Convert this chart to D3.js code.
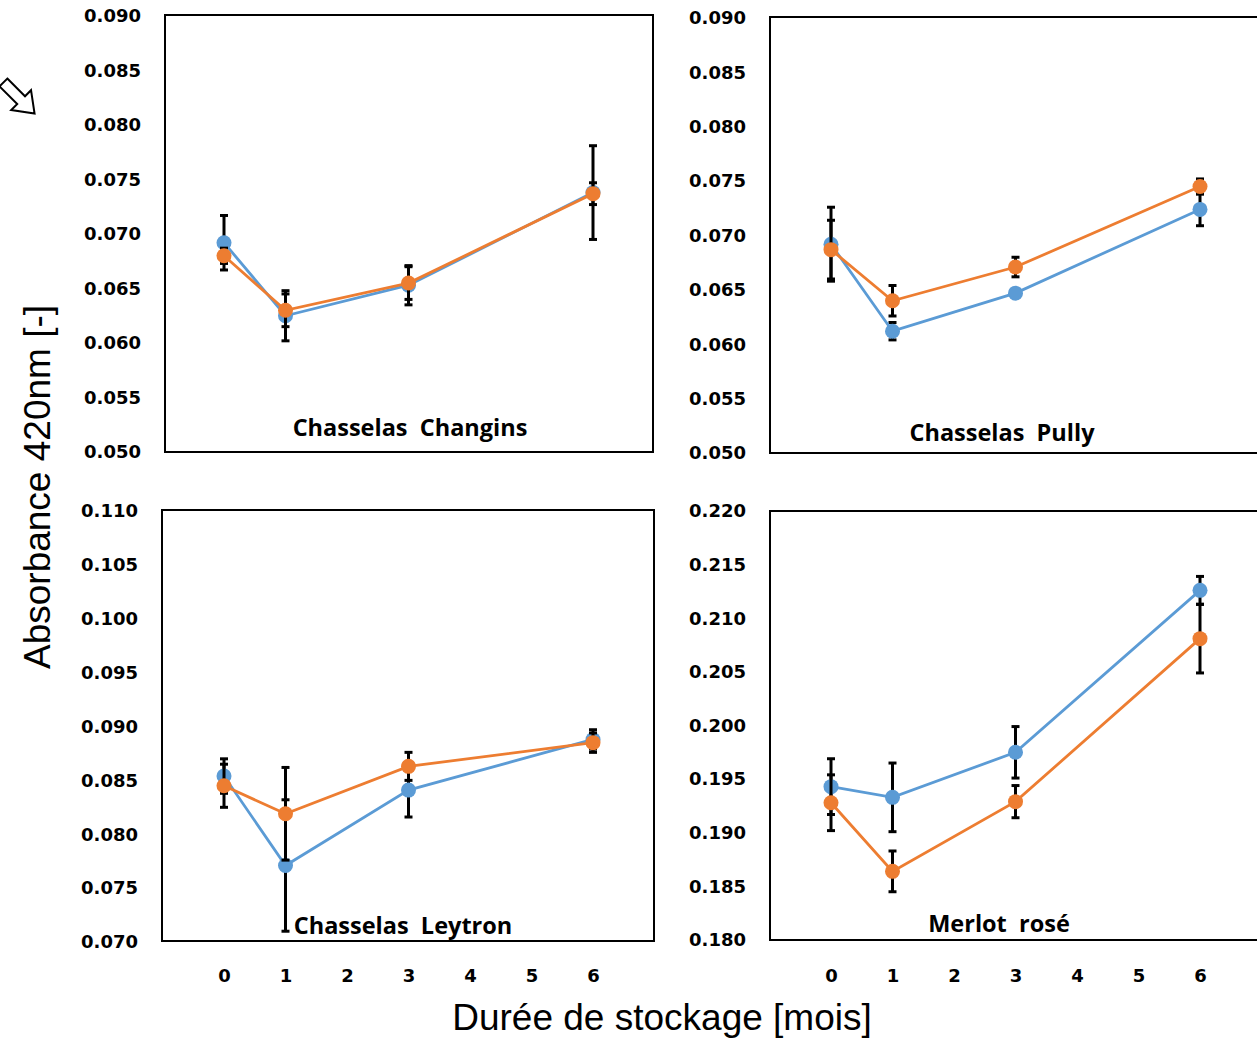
<!DOCTYPE html>
<html>
<head>
<meta charset="utf-8">
<script src="https://cdn.jsdelivr.net/npm/d3@7"></script>
<style>
  body { margin: 0; background: #fff; }
  .tick text { font-family: "DejaVu Sans", sans-serif; font-weight: bold; font-size: 18px; fill: #000; }
  .title { font-family: "Liberation Sans", Arial, sans-serif; font-size: 37px; fill: #000; }
  .plabel { font-family: "Open Sans", sans-serif; font-weight: 700; font-size: 23.5px; fill: #000; }
</style>
</head>
<body>
<div id="chart"></div>
<script>
const months = [0, 1, 3, 6];
const xTicks = [0, 1, 2, 3, 4, 5, 6];

const changinsBlue = [0.0692, 0.0625, 0.0653, 0.0738];
const changinsBlueErr = [0.0025, 0.0023, 0.0018, 0.0043];
const changinsOrange = [0.0680, 0.0630, 0.0655, 0.0737];
const changinsOrangeErr = [0.0007, 0.0015, 0.0015, 0.0010];

const pullyBlue = [0.0692, 0.0612, 0.0647, 0.0724];
const pullyBlueErr = [0.0034, 0.0008, 0.0002, 0.0015];
const pullyOrange = [0.0687, 0.0640, 0.0671, 0.0745];
const pullyOrangeErr = [0.0027, 0.0014, 0.0009, 0.0007];

const leytronBlue = [0.0854, 0.0771, 0.0841, 0.0888];
const leytronBlueErr = [0.0016, 0.0061, 0.0025, 0.0009];
const leytronOrange = [0.0845, 0.0819, 0.0863, 0.0885];
const leytronOrangeErr = [0.0020, 0.0043, 0.0013, 0.0009];

const merlotBlue = [0.1943, 0.1933, 0.1975, 0.2126];
const merlotBlueErr = [0.0026, 0.0032, 0.0024, 0.0013];
const merlotOrange = [0.1928, 0.1864, 0.1929, 0.2081];
const merlotOrangeErr = [0.0026, 0.0019, 0.0015, 0.0032];

const ticksTop = [0.050, 0.055, 0.060, 0.065, 0.070, 0.075, 0.080, 0.085, 0.090];
const ticksLeytron = [0.070, 0.075, 0.080, 0.085, 0.090, 0.095, 0.100, 0.105, 0.110];
const ticksMerlot = [0.180, 0.185, 0.190, 0.195, 0.200, 0.205, 0.210, 0.215, 0.220];

const blue = "#5B9BD5";
const orange = "#ED7D31";

const svg = d3.select("#chart").append("svg")
  .attr("width", 1257)
  .attr("height", 1038);

// panel layout (box edges in px)
const panels = [
  { name: "Chasselas  Changins", box: [165, 15, 653, 452], yr: [452, 16], xr: [162.5, 654.5],
    ticks: ticksTop, blue: changinsBlue, blueErr: changinsBlueErr, orange: changinsOrange, orangeErr: changinsOrangeErr,
    labelX: 410, labelY: 436, showX: false },
  { name: "Chasselas  Pully", box: [770, 17, 1262, 453], yr: [453, 18], xr: [769.5, 1261.5],
    ticks: ticksTop, blue: pullyBlue, blueErr: pullyBlueErr, orange: pullyOrange, orangeErr: pullyOrangeErr,
    labelX: 1002, labelY: 441, showX: false },
  { name: "Chasselas  Leytron", box: [162, 510, 654, 941], yr: [942, 511], xr: [162.5, 654.5],
    ticks: ticksLeytron, blue: leytronBlue, blueErr: leytronBlueErr, orange: leytronOrange, orangeErr: leytronOrangeErr,
    labelX: 403, labelY: 934, showX: true },
  { name: "Merlot  rosé", box: [770, 511, 1262, 940], yr: [940, 511], xr: [769.5, 1261.5],
    ticks: ticksMerlot, blue: merlotBlue, blueErr: merlotBlueErr, orange: merlotOrange, orangeErr: merlotOrangeErr,
    labelX: 999, labelY: 932, showX: true }
];

panels.forEach((p) => {
  const x = d3.scaleLinear().domain([-1, 7]).range(p.xr);
  const y = d3.scaleLinear().domain([p.ticks[0], p.ticks[p.ticks.length - 1]]).range(p.yr);
  const g = svg.append("g");

  g.append("rect")
    .attr("x", p.box[0])
    .attr("y", p.box[1])
    .attr("width", p.box[2] - p.box[0])
    .attr("height", p.box[3] - p.box[1])
    .attr("fill", "none")
    .attr("stroke", "#000")
    .attr("stroke-width", 2);

  const yAxis = g.append("g")
    .attr("transform", `translate(${p.box[0] - 22},0)`)
    .call(d3.axisLeft(y).tickValues(p.ticks).tickSize(0).tickPadding(2).tickFormat(d3.format(".3f")));
  yAxis.select(".domain").remove();

  if (p.showX) {
    const xAxis = g.append("g")
      .attr("transform", "translate(0,966)")
      .call(d3.axisBottom(x).tickValues(xTicks).tickSize(0).tickFormat(d3.format("d")));
    xAxis.select(".domain").remove();
  }

  const series = [
    { vals: p.blue, err: p.blueErr, color: blue },
    { vals: p.orange, err: p.orangeErr, color: orange }
  ];

  const line = d3.line()
    .x((d, i) => x(months[i]))
    .y((d) => y(d));

  series.forEach((s) => {
    const eb = g.append("g");
    s.vals.forEach((v, i) => {
      const cx = x(months[i]);
      const y1 = y(v + s.err[i]);
      const y2 = y(v - s.err[i]);
      eb.append("line").attr("x1", cx).attr("x2", cx).attr("y1", y1).attr("y2", y2)
        .attr("stroke", "#000").attr("stroke-width", 3);
      [y1, y2].forEach((yy) => {
        eb.append("line").attr("x1", cx - 4).attr("x2", cx + 4).attr("y1", yy).attr("y2", yy)
          .attr("stroke", "#000").attr("stroke-width", 3);
      });
    });

    g.append("path")
      .datum(s.vals)
      .attr("fill", "none")
      .attr("stroke", s.color)
      .attr("stroke-width", 2.8)
      .attr("d", line);

    g.selectAll(null)
      .data(s.vals)
      .enter()
      .append("circle")
      .attr("cx", (d, i) => x(months[i]))
      .attr("cy", (d) => y(d))
      .attr("r", 7.5)
      .attr("fill", s.color);
  });

  g.append("text")
    .attr("class", "plabel")
    .attr("x", p.labelX)
    .attr("y", p.labelY)
    .attr("text-anchor", "middle")
    .style("white-space", "pre")
    .text(p.name);
});

// axis titles
svg.append("text")
  .attr("class", "title")
  .attr("transform", "translate(50,487) rotate(-90)")
  .attr("text-anchor", "middle")
  .text("Absorbance 420nm [-]");

svg.append("text")
  .attr("class", "title")
  .attr("x", 662)
  .attr("y", 1030)
  .attr("text-anchor", "middle")
  .text("Durée de stockage [mois]");

// small hollow arrow in the corner
svg.append("path")
  .attr("d", "M-22,-5.5 L3,-5.5 L3,-14 L22,0 L3,14 L3,5.5 L-22,5.5 Z")
  .attr("transform", "translate(19,98) rotate(45)")
  .attr("fill", "#fff")
  .attr("stroke", "#000")
  .attr("stroke-width", 2);
</script>
</body>
</html>
